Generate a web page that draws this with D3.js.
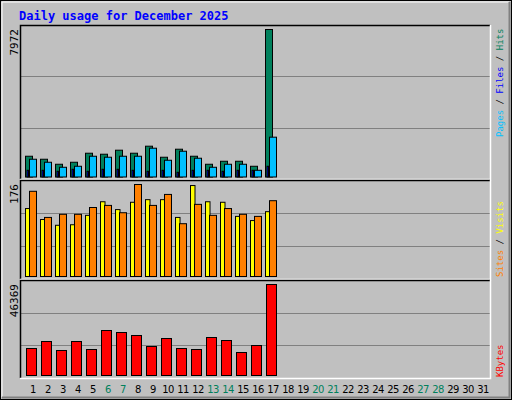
<!DOCTYPE html><html><head><meta charset="utf-8">
<script src="https://cdn.jsdelivr.net/npm/d3@7"></script>
<style>body{margin:0;background:#fff}</style></head><body><svg id="c" width="512" height="400"></svg>
<script>
const days = d3.range(1, 32);
const weekendDays = [6,7,13,14,20,21,27,28];
const hits   = [1122,960,689,797,1285,1231,1448,1285,1665,1068,1502,1122,689,851,851,580,7972];
const pages  = [960,797,526,580,1122,1068,1122,1122,1556,905,1393,1014,526,689,689,363,2152];
const files  = [363,363,309,417,309,417,417,363,309,363,255,363,363,309,363,363,580];
const sites  = [130,109,98,99,117,143,128,142,147,147,113,174,143,142,115,107,124];
const visits = [163,113,119,119,132,136,122,176,136,157,101,138,117,130,119,115,145];
const kbytes = [13758,17325,12739,17325,13248,22929,21910,20382,14777,18853,13758,13248,19363,17834,11720,15286,46369];
const maxLabels = ["7972","176","46369"];

const svg = d3.select("#c");
svg.append("rect").attr("width",512).attr("height",400).attr("fill","#c0c0c0");
svg.append("rect").attr("x",0.5).attr("y",0.5).attr("width",511).attr("height",399).attr("fill","none").attr("stroke","#000");
svg.append("path").attr("d","M2,2H509M2,2V397").attr("stroke","#fff").attr("fill","none");
svg.append("path").attr("d","M509.5,2V397.5H2").attr("stroke","#808080").attr("stroke-width",2).attr("fill","none");

svg.append("text").attr("x",19).attr("y",20).text("Daily usage for December 2025")
  .attr("font-family","DejaVu Sans Mono").attr("font-weight","bold").attr("font-size",12).attr("fill","#0000ff");

const x = d3.scaleBand().domain(days).range([20,485]).paddingInner(0).paddingOuter(0);
const L=20, R=490;
const panels = [{t:25,b:179},{t:180,b:279},{t:280,b:378}];
panels.forEach((p,i)=>{
  const h=p.b-p.t;
  [1,2].forEach(k=>{
    const yy = Math.round(p.b - h*k/3)+0.5;
    svg.append("line").attr("x1",L).attr("x2",R).attr("y1",yy).attr("y2",yy).attr("stroke","#808080").attr("stroke-width",1.2);
  });
  svg.append("path").attr("d",`M${L+0.5},${p.b}V${p.t+0.5}H${R}`).attr("stroke","#000").attr("fill","none").attr("stroke-width",1.5);
  svg.append("path").attr("d",`M${R+0.5},${p.t}V${p.b+0.5}H${L}`).attr("stroke","#fff").attr("fill","none").attr("stroke-width",1.5);
  svg.append("text").attr("transform",`translate(18,${p.t+4}) rotate(-90)`).attr("text-anchor","end")
    .attr("font-family","DejaVu Sans Mono").attr("font-size",11).attr("fill","#000").text(maxLabels[i]);
});

function bars(data, y, off, w, color){
  svg.append("g").selectAll("rect").data(data).join("rect")
    .attr("x",(d,i)=>x(i+1)+off).attr("width",w)
    .attr("y",d=>y(d)).attr("height",d=>y(0)-y(d))
    .attr("fill",color).attr("stroke","#000").attr("stroke-width",1);
}
const y1 = d3.scaleLinear().domain([0,7972]).range([177,29.5]);
bars(hits,y1,5.5,7,"#00805c");
bars(pages,y1,9.5,7,"#00c0ff");
bars(files,y1,7,1.5,"#0000ff");
const y2 = d3.scaleLinear().domain([0,176]).range([276.5,184.5]);
bars(sites,y2,5.5,4.5,"#ffff00");
bars(visits,y2,9.5,7,"#ff8000");
const y3 = d3.scaleLinear().domain([0,46369]).range([375.5,284.5]);
bars(kbytes,y3,6.5,10,"#ff0000");

svg.append("g").selectAll("text").data(days).join("text")
  .attr("x",d=>x(d)+x.bandwidth()/2+5.5).attr("y",393).attr("text-anchor","middle")
  .attr("font-family","DejaVu Sans").attr("font-size",10).attr("letter-spacing",-0.5)
  .attr("fill",d=>weekendDays.includes(d)?"#00805c":"#000").text(d=>d);

function legend(items, yBottom){
  const t = svg.append("text").attr("transform",`translate(503,${yBottom}) rotate(-90)`)
    .attr("font-family","DejaVu Sans Mono").attr("font-size",9);
  items.forEach(([s,c])=>t.append("tspan").attr("fill",c).text(s));
}
legend([["Pages","#00c0ff"],[" / ","#000"],["Files","#0000ff"],[" / ","#000"],["Hits","#00805c"]],137);
legend([["Sites","#ff8000"],[" / ","#000"],["Visits","#ffff00"]],277);
legend([["KBytes","#ff0000"]],377);
</script></body></html>
